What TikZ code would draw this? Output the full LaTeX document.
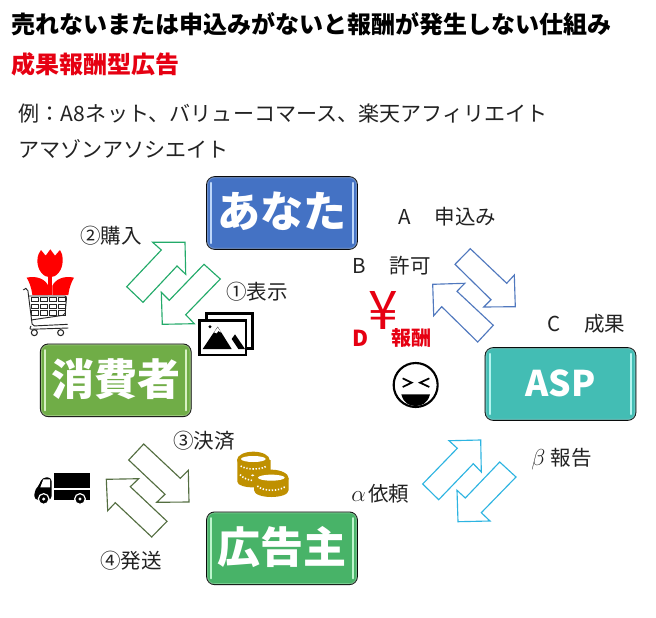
\documentclass[tikz,border=0pt]{standalone}
\usepackage{fontspec}
\setmainfont{Noto Sans CJK JP}
\definecolor{inkc}{HTML}{222222}
\definecolor{gold}{HTML}{BF9000}
\definecolor{redt}{HTML}{E60012}
\definecolor{boxblue}{HTML}{4472C4}
\definecolor{boxlime}{HTML}{70AD47}
\definecolor{boxteal}{HTML}{43BDB4}
\definecolor{boxgreen}{HTML}{48B368}
\definecolor{stripblue}{HTML}{BED7FA}
\definecolor{striplime}{HTML}{D7F0C3}
\definecolor{stripteal}{HTML}{B4F5F0}
\definecolor{stripgreen}{HTML}{BEF5CD}
\definecolor{arrgreen}{HTML}{23AA69}
\definecolor{arrblue}{HTML}{5078BE}
\definecolor{arrolive}{HTML}{546E41}
\definecolor{arrcyan}{HTML}{2DB4E1}
\newcommand{\boxtext}[2][4.6pt]{\raisebox{#1}{#2}}
\newcommand{\bigsym}[1]{{\fontsize{17.28}{18}\selectfont$#1$}}
\tikzset{
  x=0.75pt,y=-0.75pt,
  pill/.style={draw=black,line width=.8pt,rounded corners=6pt,text=white,inner sep=0pt,
    minimum width=113pt,minimum height=54.4pt,font=\fontsize{32.3}{33}\selectfont\bfseries},
  lbl/.style={anchor=base west,inner sep=0pt,text=inkc,font=\fontsize{15.4}{16}\selectfont},
  exa/.style={anchor=base west,inner sep=0pt,text=inkc,font=\fontsize{15.8}{17}\selectfont},
  ttl/.style={anchor=base west,inner sep=0pt,font=\fontsize{18}{20}\selectfont\bfseries},
  redb/.style={anchor=base west,inner sep=0pt,text=redt,font=\fontsize{15}{16}\selectfont\bfseries},
  blk/.style={draw=#1,line width=.85pt,fill=white,line join=miter},
  strip/.style={line width=1.5pt,line cap=round},
  rim/.style={line width=.9pt,rounded corners=5pt,opacity=.4},
  zoomed/.style={shift={#1},x=0.25pt,y=-0.25pt},
}
\begin{document}
\begin{tikzpicture}
\path[use as bounding box,fill=white] (0,0) rectangle (656,617);

% headings
\node[ttl] (t1) at (11,33.5) {売れないまたは申込みがないと報酬が発生しない仕組み};
\node[ttl,text=redt] (t2) at (11,73.5) {成果報酬型広告};
\node[exa] (e1) at (18,121.5) {例：A8\kern.8pt ネット、バリューコマース、楽天アフィリエイト};
\node[exa] (e2) at (18,157.5) {アマゾンアソシエイト};

% boxes
\node[pill,fill=boxblue] (you) at (282,213) {\boxtext{あなた}};
\node[pill,fill=boxlime] (cons) at (115.75,380.3) {\boxtext{消費者}};
\node[pill,fill=boxteal,font=\fontsize{26.5}{28}\selectfont\bfseries] (asp) at (560.5,384) {\boxtext[2pt]{ASP}};
\node[pill,fill=boxgreen] (adv) at (282,548.3) {\boxtext[5.2pt]{広告主}};
\foreach \n/\c in {you/stripblue,cons/striplime,asp/stripteal,adv/stripgreen}{
  \draw[rim,color=\c] ([xshift=1pt,yshift=-1pt]\n.north west) rectangle ([xshift=-1pt,yshift=1pt]\n.south east);
  \draw[strip,color=\c] ([xshift=4pt,yshift=-5pt]\n.north west) -- ([xshift=4pt,yshift=5pt]\n.south west);
  \draw[strip,color=\c] ([xshift=-4pt,yshift=-5pt]\n.north east) -- ([xshift=-4pt,yshift=5pt]\n.south east);
}

% block arrows
\draw[blk=arrgreen] (152.7,242.3)--(185,242.3)--(185.7,274.3)--(177,266)--(143,302.3)--(126.7,286.7)--(161.3,250)--cycle;
\draw[blk=arrgreen] (204,264.3)--(220.3,279)--(185.7,314.7)--(194.3,323.7)--(162.3,324.3)--(161.3,292.3)--(169.3,300.3)--cycle;
\draw[blk=arrblue] (470.3,248.7)--(455,264.3)--(491,299.7)--(483.7,307)--(515.3,306.7)--(514.3,275)--(506.7,283.3)--cycle;
\draw[blk=arrblue] (432.7,284.3)--(464.7,283.3)--(457,291.3)--(493.3,325.3)--(477.7,342)--(441.7,306.7)--(433.7,315.7)--cycle;
\draw[blk=arrolive] (143.7,444)--(128.7,460)--(165,494.3)--(156.7,502.3)--(189,502)--(188.3,470.3)--(180.3,478.3)--cycle;
\draw[blk=arrolive] (106.3,479.3)--(138.7,478.7)--(130.3,486.7)--(167,521.3)--(151.7,537)--(115.3,502.7)--(107.7,510.7)--cycle;
\draw[blk=arrcyan] (449,440.7)--(480.7,440)--(481.3,472)--(473.3,463.7)--(438.7,499.7)--(422.7,484)--(457.3,448.3)--cycle;
\draw[blk=arrcyan] (499.7,462)--(516,477)--(481.3,512.7)--(490,521)--(458,521.7)--(457,490.3)--(465.3,498)--cycle;

% labels
\node[lbl] (la) at (398,224) {A\kern2.5pt　申込み};
\node[lbl] (lb) at (352,273) {B\kern2.5pt　許可};
\node[lbl] (lc) at (547,331) {C\kern2.5pt　成果};
\node[lbl] (l2) at (80,243) {②購入};
\node[lbl] (l1) at (226,299) {①表示};
\node[lbl] (l3) at (173,448) {③決済};
\node[lbl] (l4) at (100,568) {④発送};
\node[lbl] (lal) at (351,501) {\bigsym{\alpha}\kern2pt 依頼};
\node[lbl] (lbe) at (531,465) {\bigsym{\beta}\kern4pt 報告};
\node[redb,font=\fontsize{16.5}{17}\selectfont\bfseries] (ld) at (352,346) {D};
\node[redb] (lr) at (391,345.5) {報酬};
\node[anchor=base,inner sep=0pt,text=redt,font=\fontsize{40}{42}\selectfont] (yen) at (383,329) {¥};

% tulip and cart
\begin{scope}[zoomed={(15,240)}]
  \fill[red] (67,62) .. controls (68,45) and (72,38) .. (78,30) -- (92,47) -- (106,28) -- (120,47) -- (135,30)
     .. controls (140,38) and (143,45) .. (143,62) .. controls (143,90) and (125,112) .. (105,112) .. controls (85,112) and (67,90) .. (67,62) -- cycle;
  \fill[red] (100,100) rectangle (112,165);
  \fill[red] (35,113) .. controls (65,106) and (92,118) .. (100,138) -- (100,165) -- (52,165) .. controls (49,140) and (42,125) .. (35,113) -- cycle;
  \fill[red] (177,113) .. controls (147,106) and (120,118) .. (112,138) -- (112,165) -- (160,165) .. controls (163,140) and (170,125) .. (177,113) -- cycle;
  \draw[black!85,line width=.7pt,line join=round,rounded corners=1.5pt] (25,150) -- (27,144) -- (38,146) -- (52,258) -- (158,253) (42,168) -- (155,168) -- (150,225) -- (48,240);
  \draw[black!85,line width=.7pt,rounded corners=1.5pt] (48,258) -- (43,268) -- (160,264);
  \foreach \xa/\wa in {48/23,75/23,102/23,129/21}{
    \foreach \ya/\ha in {173/12,192/13,212/13}{
      \draw[black!85,line width=.55pt] (\xa,\ya) rectangle ++(\wa,\ha);
    }
  }
  \draw[black!85,line width=.8pt,fill=white] (58,278) circle (9);
  \draw[black!85,line width=.8pt,fill=white] (137,278) circle (9);
\end{scope}

% picture icon and smiley
\begin{scope}[zoomed={(0,170)}]
  \draw[black,line width=2.1pt,fill=white] (620,431) rectangle (758,535);
  \draw[black,line width=2.1pt,fill=white] (598,451) rectangle (738,555);
  \fill[black] (608,537) -- (653,470) -- (695,537) -- cycle;
  \fill[white] (642,487) -- (653,472) -- (664,488) -- (655,483) -- (650,490) -- cycle;
  \fill[black] (695,507) -- (705,493) -- (735,537) -- (715,537) -- cycle;
  \fill[black] (630,470) circle (5);
  \begin{scope}[shift={(990,0)}]
  \draw[black,line width=1.6pt,fill=white] (257,645) circle (66);
  \draw[black,line width=1.3pt,line join=miter] (218,625) -- (245,638) -- (218,651);
  \draw[black,line width=1.3pt,line join=miter] (298,625) -- (270,638) -- (298,651);
  \fill[black] (214,673) -- (300,673) .. controls (293,700) and (275,708) .. (257,708) .. controls (239,708) and (221,700) .. (214,673) -- cycle;
  \end{scope}
\end{scope}

% truck and coins
\begin{scope}[zoomed={(0,410)}]
  \fill[black] (163,188) rectangle (270,234);
  \fill[black] (163,241) rectangle (270,269);
  \fill[black,rounded corners=3pt] (155,202) -- (127,202) -- (115,230) -- (103,242) -- (103,270) -- (155,270) -- cycle;
  \fill[white] (130,208) -- (150,208) -- (150,232) -- (121,232) -- cycle;
  \foreach \wx in {131,240}{
    \draw[white,line width=.9pt,fill=black] (\wx,267) circle (16);
    \fill[white] (\wx,267) circle (5);
  }
  % coins
  \fill[gold] (712,150) -- (712,215) .. controls (712,238) and (812,238) .. (812,215) -- (812,150) -- cycle;
  \fill[gold] (760,150) ellipse [x radius=49,y radius=25];
  \fill[white] (760,147) ellipse [x radius=37,y radius=9];
  \draw[white,line width=1.2pt,dash pattern=on 1pt off 1.3pt] (722,168) .. controls (740,180) and (785,180) .. (800,168);
  \draw[white,line width=1.2pt,dash pattern=on 1pt off 1.3pt] (720,194) .. controls (730,205) and (745,210) .. (760,212);
  \fill[white] (758,196) ellipse [x radius=5,y radius=3];
  \fill[gold] (762,205) -- (762,240) .. controls (762,268) and (866,268) .. (866,240) -- (866,205) -- cycle;
  \fill[gold] (814,205) ellipse [x radius=52,y radius=26];
  \fill[white] (814,203) ellipse [x radius=40,y radius=9];
  \draw[white,line width=1.2pt,dash pattern=on 1pt off 1.3pt] (772,228) .. controls (790,245) and (840,245) .. (858,228);
\end{scope}
\end{tikzpicture}
\end{document}
